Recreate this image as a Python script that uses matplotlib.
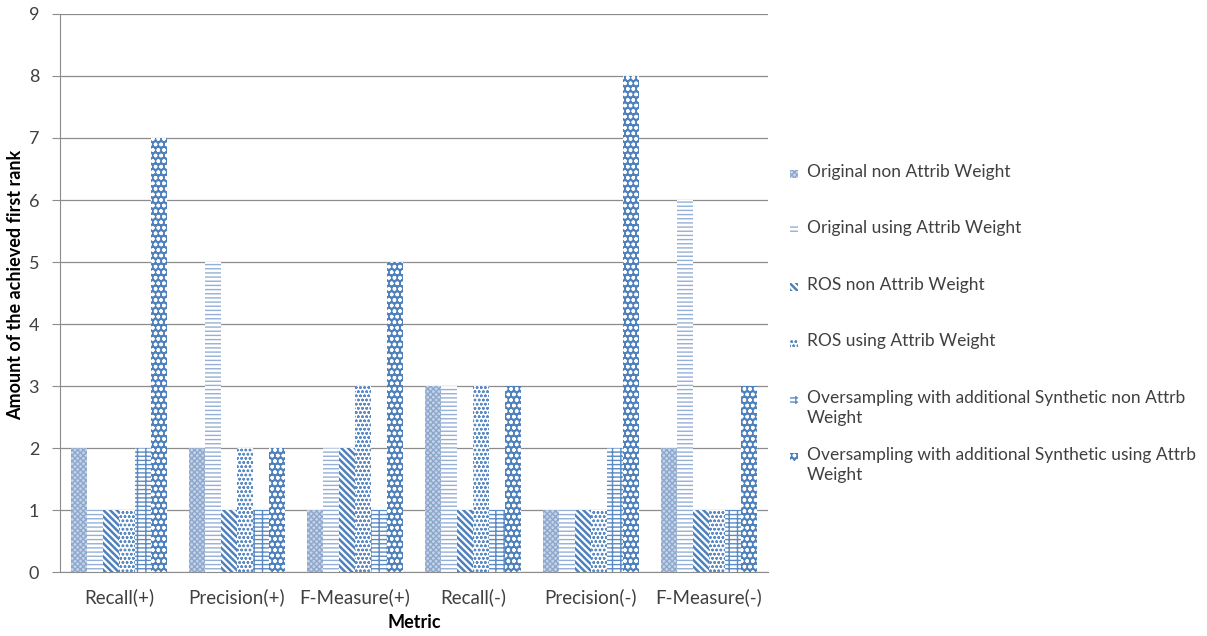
import numpy as np
import matplotlib
matplotlib.use("Agg")
from matplotlib import pyplot as plt
from matplotlib.patches import Rectangle

# metrics on the x axis
metrics = ['Recall(+)', 'Precision(+)', 'F-Measure(+)', 'Recall(-)', 'Precision(-)', 'F-Measure(-)']

# number of first ranks per method
orig_non = [2, 2, 1, 3, 1, 2]
orig_using = [1, 5, 2, 3, 1, 6]
ros_non = [1, 1, 2, 1, 1, 1]
ros_using = [1, 2, 3, 3, 1, 1]
synth_non = [2, 1, 1, 1, 2, 1]
synth_using = [7, 2, 5, 3, 8, 3]

labels = ['Original non Attrib Weight',
          'Original using Attrib Weight',
          'ROS non Attrib Weight',
          'ROS using Attrib Weight',
          'Oversampling with additional Synthetic non Attrb\nWeight',
          'Oversampling with additional Synthetic using Attrb\nWeight']
series = [orig_non, orig_using, ros_non, ros_using, synth_non, synth_using]

# face colour, hatch colour, hatch pattern, hatch line width
styles = [('#C6D4E8', '#8DA7CD', 'xxxxxx', 1.0),
          ('white', '#95AFD6', '----', 1.0),
          ('white', '#4F81BD', '\\\\\\\\\\', 1.8),
          ('white', '#5B8AC4', 'oooo', 0.7),
          ('white', '#5B8AC4', '----||', 1.0),
          ('#4F81BD', 'white', 'ooo', 1.0)]

plt.rcParams['font.family'] = ['Lato', 'DejaVu Sans']


def patterned(p, st):
    # hatch width per artist where matplotlib supports it
    if hasattr(p, 'set_hatch_linewidth'):
        p.set_hatch_linewidth(st[3])


fig = plt.figure(figsize=(12.07, 6.36), dpi=100)
ax = fig.add_axes([0.0497, 0.1006, 0.5865, 0.8774])

x = np.arange(len(metrics))
w = 0.136
for i, vals in enumerate(series):
    fc, hc, h, lw = styles[i]
    with plt.rc_context({'hatch.linewidth': lw}):
        bars = ax.bar(x + (i - 2.5) * w, vals, w, color=fc, edgecolor=hc, hatch=h,
                      linewidth=0, zorder=2)
    for b in bars:
        patterned(b, styles[i])

ax.set_xlim(-0.5, len(metrics) - 0.5)
ax.set_ylim(0, 9)
ax.set_yticks(range(0, 10))
ax.set_xticks(x)
ax.set_xticklabels(metrics, fontsize=13.5)
ax.tick_params(axis='y', labelsize=13, length=6, color='#8C8C8C', pad=9, colors='#404040')
ax.tick_params(axis='x', length=0, pad=12, colors='#404040')
ax.grid(axis='y', color='#8C8C8C', linewidth=0.9, zorder=0)
ax.set_axisbelow(True)
for s in ['top', 'right']:
    ax.spines[s].set_visible(False)
for s in ['left', 'bottom']:
    ax.spines[s].set_color('#8C8C8C')

ax.set_xlabel('Metric', fontsize=13, fontweight='bold', labelpad=5)
ax.set_ylabel('Amount of the achieved first rank', fontsize=13, fontweight='bold')
ax.yaxis.set_label_coords(-0.05, 0.514)

# legend drawn by hand so the wrapped labels line up on their first line
ys = [174, 230, 287, 343, 400, 457]
for i, lab in enumerate(labels):
    fc, hc, h, lw = styles[i]
    yf = 1 - ys[i] / 636.0
    with plt.rc_context({'hatch.linewidth': lw}):
        r = Rectangle((790 / 1207.0, yf - 4 / 636.0), 8 / 1207.0, 8 / 636.0,
                      transform=fig.transFigure, facecolor=fc, edgecolor=hc,
                      hatch=h, linewidth=0)
    patterned(r, styles[i])
    fig.add_artist(r)
    fig.text(807 / 1207.0, yf + 10 / 636.0, lab, fontsize=12.5, color='#404040',
             va='top', ha='left', linespacing=1.3)

fig.savefig('out.png', dpi=100)
